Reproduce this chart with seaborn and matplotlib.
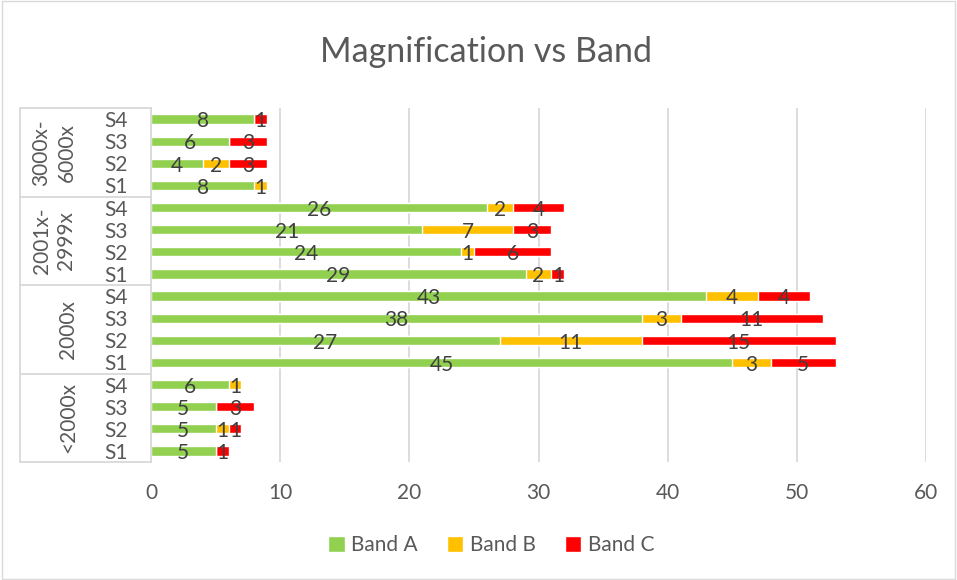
import matplotlib
matplotlib.use("Agg")
import matplotlib.pyplot as plt
import matplotlib.transforms as mtrans
from matplotlib.patches import Rectangle, Patch
import seaborn as sns
import pandas as pd
import numpy as np

# groups listed top to bottom, series inside listed S4..S1 (top to bottom)
groups = ["3000x-\n6000x", "2001x-\n2999x", "2000x", "<2000x"]
series = ["S4", "S3", "S2", "S1"]
band_a = [8, 6, 4, 8,   26, 21, 24, 29,   43, 38, 27, 45,   6, 5, 5, 5]
band_b = [0, 0, 2, 1,   2, 7, 1, 2,       4, 3, 11, 3,      1, 0, 1, 0]
band_c = [1, 3, 3, 0,   4, 3, 6, 1,       4, 11, 15, 5,     0, 3, 1, 1]

colors = {"Band A": "#92D050", "Band B": "#FFC000", "Band C": "#FF0000"}

rows = [g.replace("\n", "") + " " + s for g in groups for s in series]
df = pd.DataFrame({"row": rows, "A": band_a, "B": band_b, "C": band_c})
df["AB"] = df["A"] + df["B"]
df["ABC"] = df["AB"] + df["C"]

sns.set_style("white")
plt.rcParams["font.family"] = ["Lato", "DejaVu Sans"]

fig = plt.figure(figsize=(9.57, 5.80), dpi=100)
W, H = 957, 580
ax = fig.add_axes([151 / W, 1 - 462 / H, (926 - 151) / W, (462 - 108) / H])

# stacked bars: draw totals first, then overlay partial sums
sns.barplot(data=df, x="ABC", y="row", order=rows, color=colors["Band C"],
            width=0.42, saturation=1, orient="h", ax=ax)
sns.barplot(data=df, x="AB", y="row", order=rows, color=colors["Band B"],
            width=0.42, saturation=1, orient="h", ax=ax)
sns.barplot(data=df, x="A", y="row", order=rows, color=colors["Band A"],
            width=0.42, saturation=1, orient="h", ax=ax)

fs = 15
# data labels, centred in each segment
lab_col = "#404040"
for i, r in df.iterrows():
    starts = [0, r["A"], r["AB"]]
    for v, s0 in zip([r["A"], r["B"], r["C"]], starts):
        if v > 0:
            ax.text(s0 + v / 2, i + 0.1, str(v), ha="center", va="center",
                    fontsize=fs, color=lab_col)

ax.set_xlim(0, 60)
ax.set_xticks(range(0, 61, 10))
ax.set_ylim(15.5, -0.5)
ax.grid(axis="x", color="#D9D9D9", linewidth=1.3)
ax.set_axisbelow(True)
for sp in ["top", "right", "bottom"]:
    ax.spines[sp].set_visible(False)
ax.spines["left"].set_color("#D9D9D9")
ax.spines["left"].set_linewidth(1.3)
ax.set_xlabel("")
ax.set_ylabel("")
ax.tick_params(axis="x", length=0, pad=15, labelsize=fs, labelcolor="#595959")
ax.set_yticks(range(len(rows)))
ax.set_yticklabels(series * len(groups))
ax.tick_params(axis="y", length=0, pad=17, labelsize=fs, labelcolor="#595959")

# hierarchical category axis: group labels and separators
tr = mtrans.blended_transform_factory(fig.transFigure, ax.transData)
for k, g in enumerate(groups):
    yc = k * 4 + 1.5
    xg = 54 if "\n" in g else 68
    ax.text(xg / W, yc, g, transform=tr, rotation=90, ha="center", va="center",
            fontsize=fs, color="#595959", linespacing=1.3)
for yb in [-0.5, 3.5, 7.5, 11.5, 15.5]:
    ax.plot([20 / W, 151 / W], [yb, yb], transform=tr, color="#D9D9D9",
            linewidth=1.3, clip_on=False)
ax.plot([20 / W, 20 / W], [-0.5, 15.5], transform=tr, color="#D9D9D9",
        linewidth=1.3, clip_on=False)

fig.text(486 / W, 1 - 52 / H, "Magnification vs Band", ha="center", va="center",
         fontsize=24.5, color="#595959")

handles = [Patch(facecolor=c, label=l) for l, c in colors.items()]
fig.legend(handles=handles, loc="center", bbox_to_anchor=(491 / W, 1 - 545 / H),
           ncol=3, frameon=False, fontsize=fs, labelcolor="#595959",
           handlelength=0.8, handleheight=0.8, handletextpad=0.3, columnspacing=1.4)

fig.patches.append(Rectangle((0.002, 0.002), 0.996, 0.996, transform=fig.transFigure,
                             fill=False, edgecolor="#D9D9D9", linewidth=1))

fig.savefig("out.png", dpi=100)
